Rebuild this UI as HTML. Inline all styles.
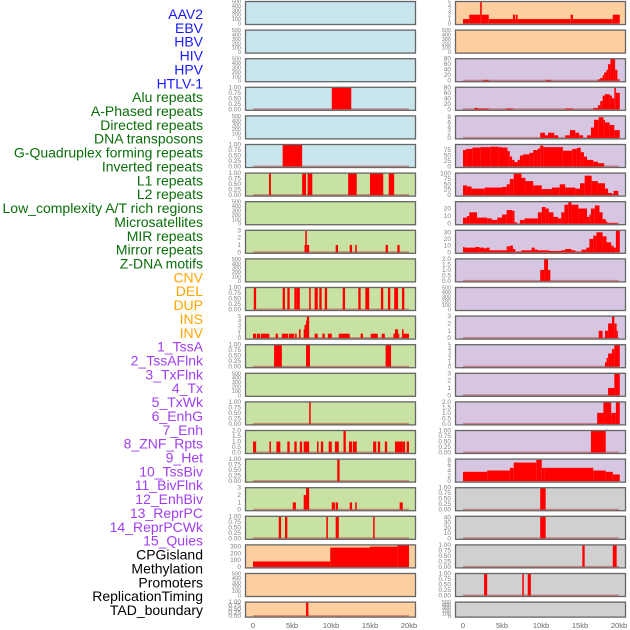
<!DOCTYPE html>
<html><head><meta charset="utf-8">
<style>
html,body{margin:0;padding:0;background:#fff;}
svg{display:block;font-family:"Liberation Sans",sans-serif;}
</style></head>
<body>
<svg id="chart" width="630" height="630" viewBox="0 0 630 630" xmlns="http://www.w3.org/2000/svg"></svg>
<script>
// ---- data (kb start, kb end, value) ----
const trackLabels = ["AAV2","EBV","HBV","HIV","HPV","HTLV-1","Alu repeats","A-Phased repeats","Directed repeats","DNA transposons","G-Quadruplex forming repeats","Inverted repeats","L1 repeats","L2 repeats","Low_complexity A/T rich regions","Microsatellites","MIR repeats","Mirror repeats","Z-DNA motifs","CNV","DEL","DUP","INS","INV","1_TssA","2_TssAFlnk","3_TxFlnk","4_Tx","5_TxWk","6_EnhG","7_Enh","8_ZNF_Rpts","9_Het","10_TssBiv","11_BivFlnk","12_EnhBiv","13_ReprPC","14_ReprPCWk","15_Quies","CPGisland","Methylation","Promoters","ReplicationTiming","TAD_boundary"];
const labelColors = ["#1a1aff","#1a1aff","#1a1aff","#1a1aff","#1a1aff","#1a1aff","#0a6e0a","#0a6e0a","#0a6e0a","#0a6e0a","#0a6e0a","#0a6e0a","#0a6e0a","#0a6e0a","#0a6e0a","#0a6e0a","#0a6e0a","#0a6e0a","#0a6e0a","#ffa500","#ffa500","#ffa500","#ffa500","#ffa500","#a040f0","#a040f0","#a040f0","#a040f0","#a040f0","#a040f0","#a040f0","#a040f0","#a040f0","#a040f0","#a040f0","#a040f0","#a040f0","#a040f0","#a040f0","#000","#000","#000","#000","#000"];
const xTickValues = [0,5,10,15,20];
const xTickLabels = ["0","5kb","10kb","15kb","20kb"];
const ticksEmpty = [0,100,200,300,400,500];
const ticksUnit = [0,0.25,0.5,0.75,1];
const ticksUnitLbl = ["0.00","0.25","0.50","0.75","1.00"];

const hivSegs = [[10.1,12.6,1]];
const htlvSegs = [[3.8,6.3,1]];
const aluSegs = [[2.05,2.3,1],[6.3,6.8,1],[7.0,7.6,1],[12.2,13.3,1],[15.0,16.7,1],[17.4,18.1,1]];
const directedSegs = [[6.6,6.7,1],[6.7,6.9,3],[6.9,7.2,1],[10.6,10.9,1],[12.4,12.7,1],[13.1,13.3,1],[17.0,17.3,1],[18.5,18.8,1]];
const gquadSegs = [[0.1,0.4,1],[3.8,4.1,1],[4.4,4.7,1],[5.3,5.6,1],[5.6,6.0,1],[7.2,7.4,1],[7.9,8.3,1],[8.5,8.8,1],[9.2,9.5,1],[11.5,11.8,1],[13.5,13.8,1],[14.4,14.9,1],[16.4,16.7,1],[17.3,17.6,1],[18.1,18.6,1],[19.1,19.4,1]];
const invertedSegs = [[0.0,0.4,1],[0.5,0.9,1],[1.0,2.1,1],[2.9,3.2,1],[3.7,4.5,1],[4.6,5.3,1],[5.4,5.6,1],[5.9,6.1,2],[6.5,6.6,2],[6.6,6.8,3],[6.8,6.9,4],[6.9,7.2,5],[7.9,8.3,1],[8.9,9.2,1],[9.6,10.1,1],[11.0,12.4,1],[13.8,14.1,1],[15.1,16.0,1],[16.5,16.9,1],[18.0,18.2,1],[18.2,18.6,2],[18.6,18.7,1],[19.1,19.3,2],[19.3,20.0,1]];
const l1Segs = [[2.7,3.7,1],[6.8,7.3,1],[17.0,17.7,1]];
const lowcSegs = [[7.2,7.4,1]];
const microSegs = [[0.0,0.4,1],[2.1,2.3,1],[3.0,3.5,1],[4.4,4.7,1],[5.3,5.6,1],[6.0,6.3,1],[6.5,7.2,1],[8.2,8.4,1],[8.7,9.0,1],[9.7,10.1,1],[10.5,11.0,1],[11.6,11.9,2],[12.3,12.7,1],[12.8,13.3,1],[15.4,15.8,1],[16.0,16.3,1],[16.9,17.2,1],[18.2,19.2,1],[19.2,19.5,1],[19.7,20.0,1]];
const mirSegs = [[10.8,11.1,1]];
const mirrorSegs = [[5.1,5.5,1],[6.5,6.8,2],[6.8,7.2,3],[10.1,10.5,1],[10.6,10.9,1],[12.4,12.7,1],[13.1,13.3,1],[18.8,19.2,1]];
const zdnaSegs = [[3.3,3.6,1],[4.1,4.4,1],[9.4,9.6,1],[10.6,11.0,1],[15.4,15.6,1]];
const cnvSegs = [[0,9.9,80],[9.9,15.0,285],[15.0,18.5,300],[18.5,20.0,320]];
const dupSegs = [[6.8,7.1,1]];
const insSegs = [[0,0.8,1],[0.8,2.2,2],[2.2,2.4,5],[2.4,3.3,2],[3.3,6.4,1],[6.4,6.7,2],[6.7,6.8,1],[6.8,7.0,2],[7.0,13.8,1],[13.8,14.1,2],[14.1,19.2,1],[19.2,20.1,2]];
const tssaSegs = [[2.6,3.3,3],[10.6,11.3,3],[17.3,17.6,5],[17.6,17.9,10],[17.9,18.1,20],[18.1,18.4,30],[18.4,18.6,40],[18.6,18.9,60],[18.9,19.3,80],[19.3,19.5,80],[19.5,19.8,40],[19.8,20.1,5]];
const tssaflnkSegs = [[1.5,1.9,5],[1.9,3.3,3],[5.5,6.4,3],[13.1,14.1,3],[16.7,17.3,5],[17.3,17.6,15],[17.6,17.9,30],[17.9,18.2,50],[18.2,18.8,55],[18.8,19.1,50],[19.1,19.4,40],[19.4,19.6,80],[19.6,20.1,60]];
const txflnkSegs = [[9.9,10.5,2],[10.5,10.9,1],[10.9,11.7,2],[11.7,12.2,1],[13.1,13.7,1],[13.7,14.4,3],[14.4,14.9,2],[14.9,15.4,1],[15.9,16.4,1],[16.4,16.8,4],[16.8,17.4,7],[17.4,18.0,8],[18.0,18.2,7],[18.2,18.8,6],[18.8,19.4,5],[19.4,20.1,3]];
const txSegs = [[0,0.4,75],[0.4,1.2,80],[1.2,2.2,86],[2.2,3.5,88],[3.5,4.5,90],[4.5,5.0,88],[5.0,5.7,86],[5.7,6.0,70],[6.0,6.3,45],[6.3,6.6,30],[6.6,7.0,20],[7.0,7.3,30],[7.3,7.7,50],[7.7,8.5,55],[8.5,9.0,62],[9.0,9.6,75],[9.6,9.9,82],[9.9,10.3,95],[10.3,12.8,88],[12.8,14.0,72],[14.0,14.6,80],[14.6,15.1,85],[15.1,15.5,65],[15.5,15.9,45],[15.9,16.7,30],[16.7,17.3,22],[17.3,18.1,15]];
const txwkSegs = [[0,0.5,45],[0.5,1.1,40],[1.1,2.8,30],[2.8,5.0,35],[5.0,5.6,38],[5.6,6.0,50],[6.0,6.5,75],[6.5,7.5,100],[7.5,8.0,80],[8.0,9.0,65],[9.0,10.1,45],[10.1,11.4,28],[11.4,12.4,35],[12.4,13.1,50],[13.1,14.4,35],[14.4,15.0,30],[15.0,15.6,55],[15.6,16.5,90],[16.5,17.3,65],[17.3,18.2,55],[18.2,18.6,30],[18.6,19.1,10],[19.1,19.3,5],[19.3,19.9,20]];
const enhgSegs = [[0,0.5,8],[0.5,0.8,10],[0.8,1.8,15],[1.8,3.1,8],[3.1,3.7,7],[3.7,4.4,5],[4.4,5.0,8],[5.0,5.6,12],[5.6,6.3,18],[6.3,6.6,17],[6.6,6.9,2],[7.3,7.9,5],[7.9,9.6,7],[9.6,10.1,15],[10.1,10.6,22],[10.6,11.0,20],[11.0,11.6,15],[11.6,12.2,9],[12.2,12.6,7],[12.6,13.0,15],[13.0,13.5,25],[13.5,13.9,30],[13.9,14.8,25],[14.8,15.9,20],[15.9,16.2,9],[16.2,16.4,12],[16.4,16.9,20],[16.9,17.5,24],[17.5,17.9,15],[17.9,18.3,6],[18.3,18.5,3],[18.5,19.8,1]];
const enhSegs = [[0,0.2,8],[0.2,1.6,7],[1.6,2.1,8],[2.1,2.7,7],[2.7,3.0,6],[3.0,3.4,7],[3.4,5.6,3],[5.6,6.0,9],[6.0,6.4,10],[6.4,6.7,5],[6.7,7.5,1],[7.5,8.8,3],[8.8,9.2,7],[9.2,9.6,4],[9.6,11.0,3],[11.0,12.6,2],[12.6,13.1,3],[13.1,13.9,5],[13.9,14.4,3],[14.4,15.2,1],[15.2,15.8,4],[15.8,16.2,7],[16.2,16.7,20],[16.7,17.1,25],[17.1,17.9,30],[17.9,18.4,24],[18.4,19.0,15],[19.0,19.3,10],[19.3,19.6,7],[19.6,20.1,33]];
const znfSegs = [[9.9,10.4,1],[10.4,10.9,2],[10.9,11.2,1]];
const tssbivSegs = [[17.4,17.9,1],[18.2,18.6,1],[18.6,19.1,2],[19.1,19.4,3],[19.4,19.7,2],[19.7,19.8,1]];
const bivflnkSegs = [[18.2,18.4,1],[18.4,18.6,2],[18.6,19.1,3],[19.1,19.4,4],[19.4,20.1,5]];
const enhbivSegs = [[18.6,19.4,1],[19.4,20.1,3]];
const reprpcSegs = [[17.2,18.0,1],[18.0,19.0,2],[19.0,19.6,1],[19.6,20.1,2]];
const reprpcwkSegs = [[16.4,18.3,1]];
const quiesSegs = [[0,3.1,3.5],[3.1,6.0,4],[6.0,6.5,5],[6.5,9.4,7],[9.4,10.1,8],[10.1,10.5,5],[10.5,16.7,5],[16.7,18.3,4],[18.3,19.2,3.5],[19.2,20.1,2.5]];
const cpgSegs = [[9.9,10.6,1]];
const methSegs = [[9.9,10.6,42]];
const promSegs = [[15.3,15.6,1],[19.2,19.7,1]];
const reptimeSegs = [[2.7,3.1,1],[7.6,7.8,1],[8.3,8.7,1]];

const BLUE="#c8e4ec", GREEN="#c8e2a4", PEACH="#fecf9e", LAV="#d6c6e2", GRAY="#d0d0d0";
// panel config: [name, col, row, bg, segs, ymax, ticks, tickLabels]
const panels = [
 ["aav2",0,0,BLUE,null,500,ticksEmpty,null],
 ["ebv",0,1,BLUE,null,500,ticksEmpty,null],
 ["hbv",0,2,BLUE,null,500,ticksEmpty,null],
 ["hiv",0,3,BLUE,hivSegs,1,ticksUnit,ticksUnitLbl],
 ["hpv",0,4,BLUE,null,500,ticksEmpty,null],
 ["htlv-1",0,5,BLUE,htlvSegs,1,ticksUnit,ticksUnitLbl],
 ["alu-repeats",0,6,GREEN,aluSegs,1,ticksUnit,ticksUnitLbl],
 ["a-phased-repeats",0,7,GREEN,null,500,ticksEmpty,null],
 ["directed-repeats",0,8,GREEN,directedSegs,3,[0,1,2,3],null],
 ["dna-transposons",0,9,GREEN,null,500,ticksEmpty,null],
 ["g-quadruplex",0,10,GREEN,gquadSegs,1,ticksUnit,ticksUnitLbl],
 ["inverted-repeats",0,11,GREEN,invertedSegs,5,[0,1,2,3,4,5],null],
 ["l1-repeats",0,12,GREEN,l1Segs,1,ticksUnit,ticksUnitLbl],
 ["l2-repeats",0,13,GREEN,null,500,ticksEmpty,null],
 ["low-complexity",0,14,GREEN,lowcSegs,1,ticksUnit,ticksUnitLbl],
 ["microsatellites",0,15,GREEN,microSegs,2,[0,0.5,1,1.5,2],["0.0","0.5","1.0","1.5","2.0"]],
 ["mir-repeats",0,16,GREEN,mirSegs,1,ticksUnit,ticksUnitLbl],
 ["mirror-repeats",0,17,GREEN,mirrorSegs,3,[0,1,2,3],null],
 ["z-dna-motifs",0,18,GREEN,zdnaSegs,1,ticksUnit,ticksUnitLbl],
 ["cnv",0,19,PEACH,cnvSegs,325,[0,100,200,300],null],
 ["del",0,20,PEACH,null,500,ticksEmpty,null],
 ["dup",0,21,PEACH,dupSegs,1,ticksUnit,ticksUnitLbl],
 ["ins",1,0,PEACH,insSegs,5,[0,1,2,3,4,5],null],
 ["inv",1,1,PEACH,null,500,ticksEmpty,null],
 ["tssa",1,2,LAV,tssaSegs,80,[0,20,40,60,80],null],
 ["tssaflnk",1,3,LAV,tssaflnkSegs,80,[0,20,40,60,80],null],
 ["txflnk",1,4,LAV,txflnkSegs,8.5,[0,2,4,6,8],null],
 ["tx",1,5,LAV,txSegs,100,[0,25,50,75],null],
 ["txwk",1,6,LAV,txwkSegs,102,[0,25,50,75,100],null],
 ["enhg",1,7,LAV,enhgSegs,29,[0,10,20],null],
 ["enh",1,8,LAV,enhSegs,33,[0,10,20,30],null],
 ["znf-rpts",1,9,LAV,znfSegs,2,[0,0.5,1,1.5,2],["0.0","0.5","1.0","1.5","2.0"]],
 ["het",1,10,LAV,null,500,ticksEmpty,null],
 ["tssbiv",1,11,LAV,tssbivSegs,3,[0,1,2,3],null],
 ["bivflnk",1,12,LAV,bivflnkSegs,5,[0,1,2,3,4,5],null],
 ["enhbiv",1,13,LAV,enhbivSegs,3,[0,1,2,3],null],
 ["reprpc",1,14,LAV,reprpcSegs,2,[0,0.5,1,1.5,2],["0.0","0.5","1.0","1.5","2.0"]],
 ["reprpcwk",1,15,LAV,reprpcwkSegs,1,ticksUnit,ticksUnitLbl],
 ["quies",1,16,LAV,quiesSegs,8.3,[0,2,4,6,8],null],
 ["cpgisland",1,17,GRAY,cpgSegs,1,ticksUnit,ticksUnitLbl],
 ["methylation",1,18,GRAY,methSegs,42,[0,10,20,30,40],null],
 ["promoters",1,19,GRAY,promSegs,1,ticksUnit,ticksUnitLbl],
 ["replication-timing",1,20,GRAY,reptimeSegs,1,ticksUnit,ticksUnitLbl],
 ["tad-boundary",1,21,GRAY,null,500,ticksEmpty,null]
];

const svg = document.getElementById('chart');
const NS = "http://www.w3.org/2000/svg";
function mk(tag, attrs, parent){ const e=document.createElementNS(NS,tag); for(const k in attrs) e.setAttribute(k,attrs[k]); (parent||svg).appendChild(e); return e; }
function xScale(col, kb){ return (col ? 463 : 253) + kb*7.8; }
function rowTop(r){ return 1 + r*28.6; }
function rowH(r){ return r===21 ? 16 : 24; }
function yScale(r, ymax, v){ const t=rowTop(r), h=rowH(r); return t+h-1.5 - (v/ymax)*(h-2); }

// labels
trackLabels.forEach((lbl,i)=>{
  const t = mk('text',{x:203,y:19+i*13.86,'text-anchor':'end','font-size':'14',fill:labelColors[i]});
  
  
  t.textContent = lbl;
});

panels.forEach(p=>{
  const [name,col,row,bg,segs,ymax,ticks,tl] = p;
  const g = mk('g',{});
  
  
  const x0 = col ? 455 : 245, w = 171, t = rowTop(row), h = rowH(row);
  const bgR = mk('rect',{x:x0,y:t,width:w,height:h,fill:bg},g);
  
  
  if(segs){
    const base = mk('rect',{x:xScale(col,0),y:yScale(row,ymax,0)-1,width:xScale(col,20)-xScale(col,0),height:2,fill:'#c05050',opacity:'0.6'},g);
    
    
    segs.forEach(s=>{
      const xa=xScale(col,s[0]), xb=xScale(col,s[1]);
      const yt=yScale(row,ymax,s[2]), yb=yScale(row,ymax,0);
      const b = mk('rect',{x:xa,y:Math.max(yt,t),width:Math.max(xb-xa,1.2),height:yb-Math.max(yt,t),fill:'#ff0000'},g);
      
      
    });
  }
  const fr = mk('rect',{x:x0+0.5,y:t+0.5,width:w-1,height:h-1,fill:'none',stroke:'#666','stroke-width':'1.3'},g);
  
  
  const fs = ticks.length>=6 ? 5.5 : 6.5;
  ticks.forEach((v,j)=>{
    const tx = mk('text',{x:x0-4,y:yScale(row,ymax,v)+2,'text-anchor':'end','font-size':fs,fill:'#808080'},g);
    
    
    tx.textContent = tl ? tl[j] : String(v);
  });
});

// x axis labels
[0,1].forEach(col=>{
  xTickValues.forEach((v,i)=>{
    const t = mk('text',{x:xScale(col,v),y:628,'text-anchor':'middle','font-size':'7.5',fill:'#666'});
    
    
    t.textContent = xTickLabels[i];
  });
});
</script>
</body></html>
